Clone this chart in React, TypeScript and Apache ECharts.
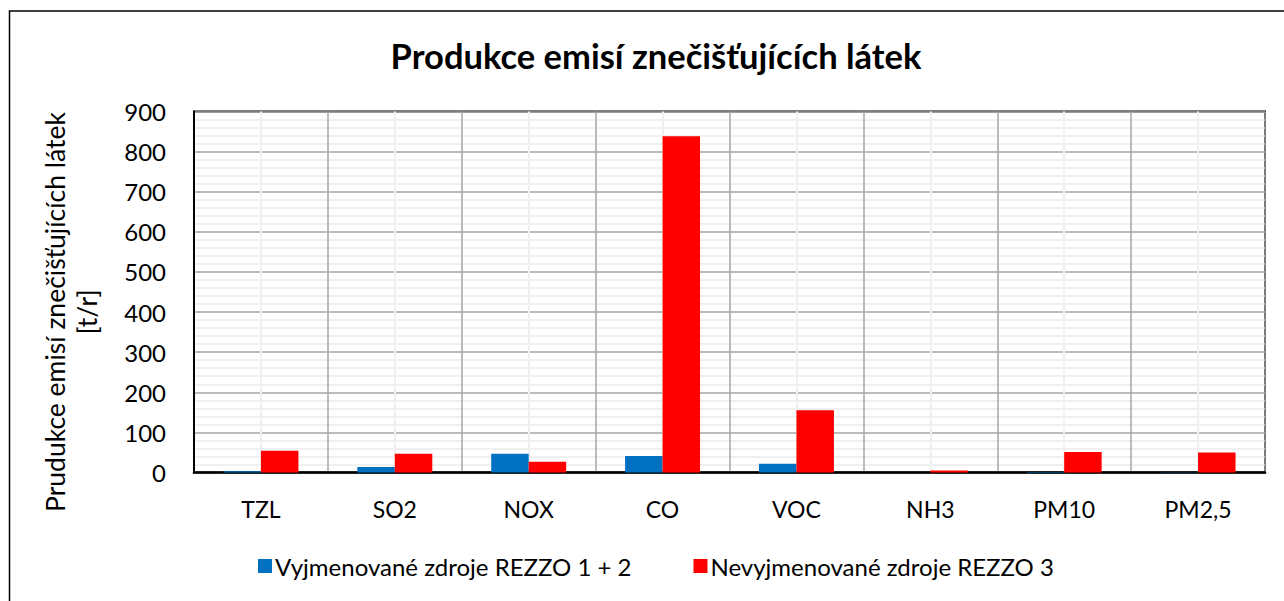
import React, { useEffect, useRef } from "react";
import * as echarts from "echarts";

const categories = ["TZL", "SO2", "NOX", "CO", "VOC", "NH3", "PM10", "PM2,5"];
const seriesNames = ["Vyjmenované zdroje REZZO 1 + 2", "Nevyjmenované zdroje REZZO 3"];
const rezzo12 = [3, 14, 47, 41, 22, 0.3, 1, 0.5];
const rezzo3 = [54, 47, 27, 838, 155, 5, 51, 50];
const yTicks = { min: 0, max: 900, interval: 100 };
const titleText = "Produkce emisí znečišťujících látek";
const yNameLines = ["Prudukce emisí znečišťujících látek", "[t/r]"];

const FONT = "Lato, 'Open Sans', sans-serif";

export default function App() {
  const ref = useRef<HTMLDivElement>(null);
  useEffect(() => {
    document.body.style.margin = "0";
    const chart = echarts.init(ref.current!, null, { renderer: "svg" });
    chart.setOption({
      animation: false,
      backgroundColor: "#ffffff",
      textStyle: { fontFamily: FONT, color: "#000" },
      title: {
        text: titleText,
        left: 651,
        top: 33,
        textAlign: "center",
        textStyle: { fontFamily: FONT, fontSize: 34.5, fontWeight: "bold", color: "#000" },
      },
      legend: {
        left: 253,
        top: 549,
        itemWidth: 14,
        itemHeight: 14,
        itemGap: 62,
        icon: "rect",
        textStyle: { fontFamily: FONT, fontSize: 24, color: "#000", padding: [0, 0, 0, -2] },
        data: seriesNames,
      },
      grid: {
        left: 194,
        top: 111.5,
        right: 19,
        bottom: 128.5,
        show: true,
        borderColor: "#000",
        borderWidth: 2,
        backgroundColor: "transparent",
      },
      xAxis: [
        {
          type: "category",
          data: categories,
          axisTick: { show: false },
          axisLine: { show: true, lineStyle: { color: "#000", width: 2.5 } },
          axisLabel: { fontFamily: FONT, fontSize: 23, color: "#000", margin: 25 },
          splitLine: { show: false },
        },
        {
          type: "value",
          min: 0,
          max: categories.length,
          interval: 1,
          position: "top",
          axisLine: { show: false },
          axisTick: { show: false },
          axisLabel: { show: false },
          splitLine: { show: true, lineStyle: { color: "#a6a6a6", width: 1.5 } },
          minorTick: { show: false, splitNumber: 2 },
          minorSplitLine: { show: true, lineStyle: { color: "#f0f0f0", width: 2 } },
        },
      ],
      yAxis: {
        type: "value",
        min: yTicks.min,
        max: yTicks.max,
        interval: yTicks.interval,
        axisLine: { show: true, lineStyle: { color: "#000", width: 2 } },
        axisTick: { show: false },
        axisLabel: { fontFamily: FONT, fontSize: 24, color: "#000", margin: 28 },
        splitLine: { show: true, lineStyle: { color: "#a6a6a6", width: 1.5 } },
        minorTick: { show: false, splitNumber: 5 },
        minorSplitLine: { show: true, lineStyle: { color: "#f0f0f0", width: 2 } },
      },
      graphic: [
        {
          type: "rect",
          shape: { x: 9.5, y: 11, width: 1400, height: 700 },
          style: { fill: "none", stroke: "#000", lineWidth: 1.5 },
          z: -10,
          silent: true,
        },
        {
          type: "text",
          x: 55,
          y: 312,
          rotation: Math.PI / 2,
          style: {
            text: yNameLines[0],
            fontFamily: FONT,
            fontSize: 26.5,
            fill: "#000",
            align: "center",
            verticalAlign: "middle",
          },
        },
        {
          type: "text",
          x: 87,
          y: 312,
          rotation: Math.PI / 2,
          style: {
            text: yNameLines[1],
            fontFamily: FONT,
            fontSize: 26.5,
            fill: "#000",
            align: "center",
            verticalAlign: "middle",
          },
        },
      ],
      series: [
        {
          name: seriesNames[0],
          type: "bar",
          data: rezzo12,
          itemStyle: { color: "#0070C0" },
          barGap: "0%",
          barCategoryGap: "44%",
          xAxisIndex: 0,
        },
        {
          name: seriesNames[1],
          type: "bar",
          data: rezzo3,
          itemStyle: { color: "#FF0000" },
          barGap: "0%",
          barCategoryGap: "44%",
          xAxisIndex: 0,
        },
      ],
    });
    return () => chart.dispose();
  }, []);
  return <div ref={ref} style={{ width: 1284, height: 601 }} />;
}
